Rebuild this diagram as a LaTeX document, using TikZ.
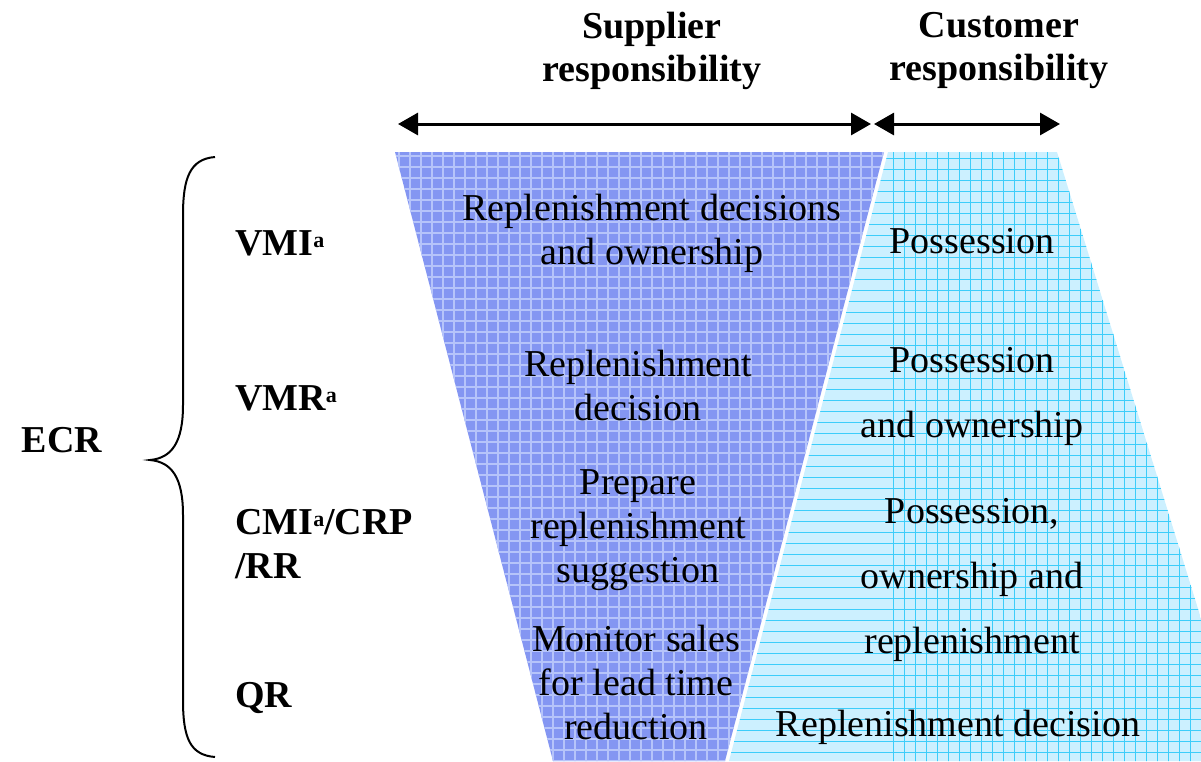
\documentclass[tikz,border=0pt]{standalone}
\usepackage{fontspec}
\setmainfont{Liberation Serif}
\usetikzlibrary{arrows.meta}

\definecolor{supblue}{RGB}{132,150,242}
\definecolor{supline}{RGB}{182,196,250}
\definecolor{cusback}{RGB}{204,240,255}
\definecolor{cusline}{RGB}{60,205,250}

\newcommand{\supa}{\raisebox{0.45ex}{\fontsize{22}{22}\selectfont a}}

\begin{document}
\begin{tikzpicture}[ x=1pt, y=-1pt, >={Triangle[length=20pt,width=22pt]},
    head/.style={font=\fontsize{38}{43}\selectfont\bfseries, align=center, inner sep=0pt},
    method/.style={font=\fontsize{38}{44}\selectfont\bfseries, align=left, anchor=west, inner sep=0pt},
    suptext/.style={font=\fontsize{38}{44}\selectfont, align=center, inner sep=0pt},
    custext/.style={font=\fontsize{38}{65}\selectfont, align=center, inner sep=0pt},
    span/.style={<->, line width=3pt} ]
    \useasboundingbox (0,0) rectangle (1201,761);
    \clip (0,0) rectangle (1201,761);

    % Supplier part (blue)
    \begin{scope}
      \clip (395,152) -- (884,152) -- (725,761) -- (553,761) -- cycle;
      \fill[supblue] (380,140) rectangle (900,770);
      \foreach \gy in {156,167,...,770}
        \draw[supline, line width=2pt] (380,\gy) -- (900,\gy);
      \foreach \gx in {399,410,...,900}
        \draw[supline, line width=1.2pt] (\gx,140) -- (\gx,770);
    \end{scope}

    % Customer part (cyan)
    \begin{scope}
      \clip (888,152) -- (1057,152) -- (1245,761) -- (729,761) -- cycle;
      \fill[cusback] (720,140) rectangle (1260,770);
      \foreach \gy in {158,169,...,770}
        \draw[cusline, line width=1pt] (720,\gy) -- (1260,\gy);
      \foreach \gx in {893,904,...,1260}
        \draw[cusline, line width=1pt] (\gx,140) -- (\gx,770);
    \end{scope}

    % Responsibility arrows
    \coordinate (supL) at (398,124);
    \coordinate (supR) at (871,124);
    \coordinate (cusL) at (874,124);
    \coordinate (cusR) at (1060,124);
    \draw[span] (supL) -- (supR);
    \draw[span] (cusL) -- (cusR);

    \node[head] (suphead) at (652,51) {Supplier\\responsibility};
    \node[head] (cushead) at (999,51) {Customer\\responsibility};

    % Brace
    \draw[line width=2pt] (215,157) .. controls (190,159) and (183,178) .. (183,215) -- (183,405)
      .. controls (183,442) and (172,458) .. (150,460)
      .. controls (172,462) and (183,478) .. (183,515) -- (183,700)
      .. controls (183,738) and (190,755) .. (215,757);
    \node[head, anchor=center] (ecr) at (62,440) {ECR};

    % Methods
    \node[method] (vmi) at (235,243) {VMI\supa};
    \node[method] (vmr) at (235,398) {VMR\supa};
    \node[method] (cmi) at (235,544) {CMI\supa/CRP\\/RR};
    \node[method] (qr) at (235,698) {QR};

    % Supplier tasks
    \node[suptext] (supvmi) at (652,233) {Replenishment decisions\\and ownership};
    \node[suptext] (supvmr) at (638,385) {Replenishment\\decision};
    \node[suptext] (supcmi) at (638,530) {Prepare\\replenishment\\suggestion};
    \node[suptext] (supqr) at (636,682) {Monitor sales\\for lead time\\reduction};

    % Customer tasks
    \node[custext] (cusvmi) at (972,241) {Possession};
    \node[custext] (cusvmr) at (972,396) {Possession\\and ownership};
    \node[custext] (cuscmi) at (972,580) {Possession,\\ownership and\\replenishment};
    \node[custext] (cusqr) at (958,727) {Replenishment decision};
\end{tikzpicture}
\end{document}
